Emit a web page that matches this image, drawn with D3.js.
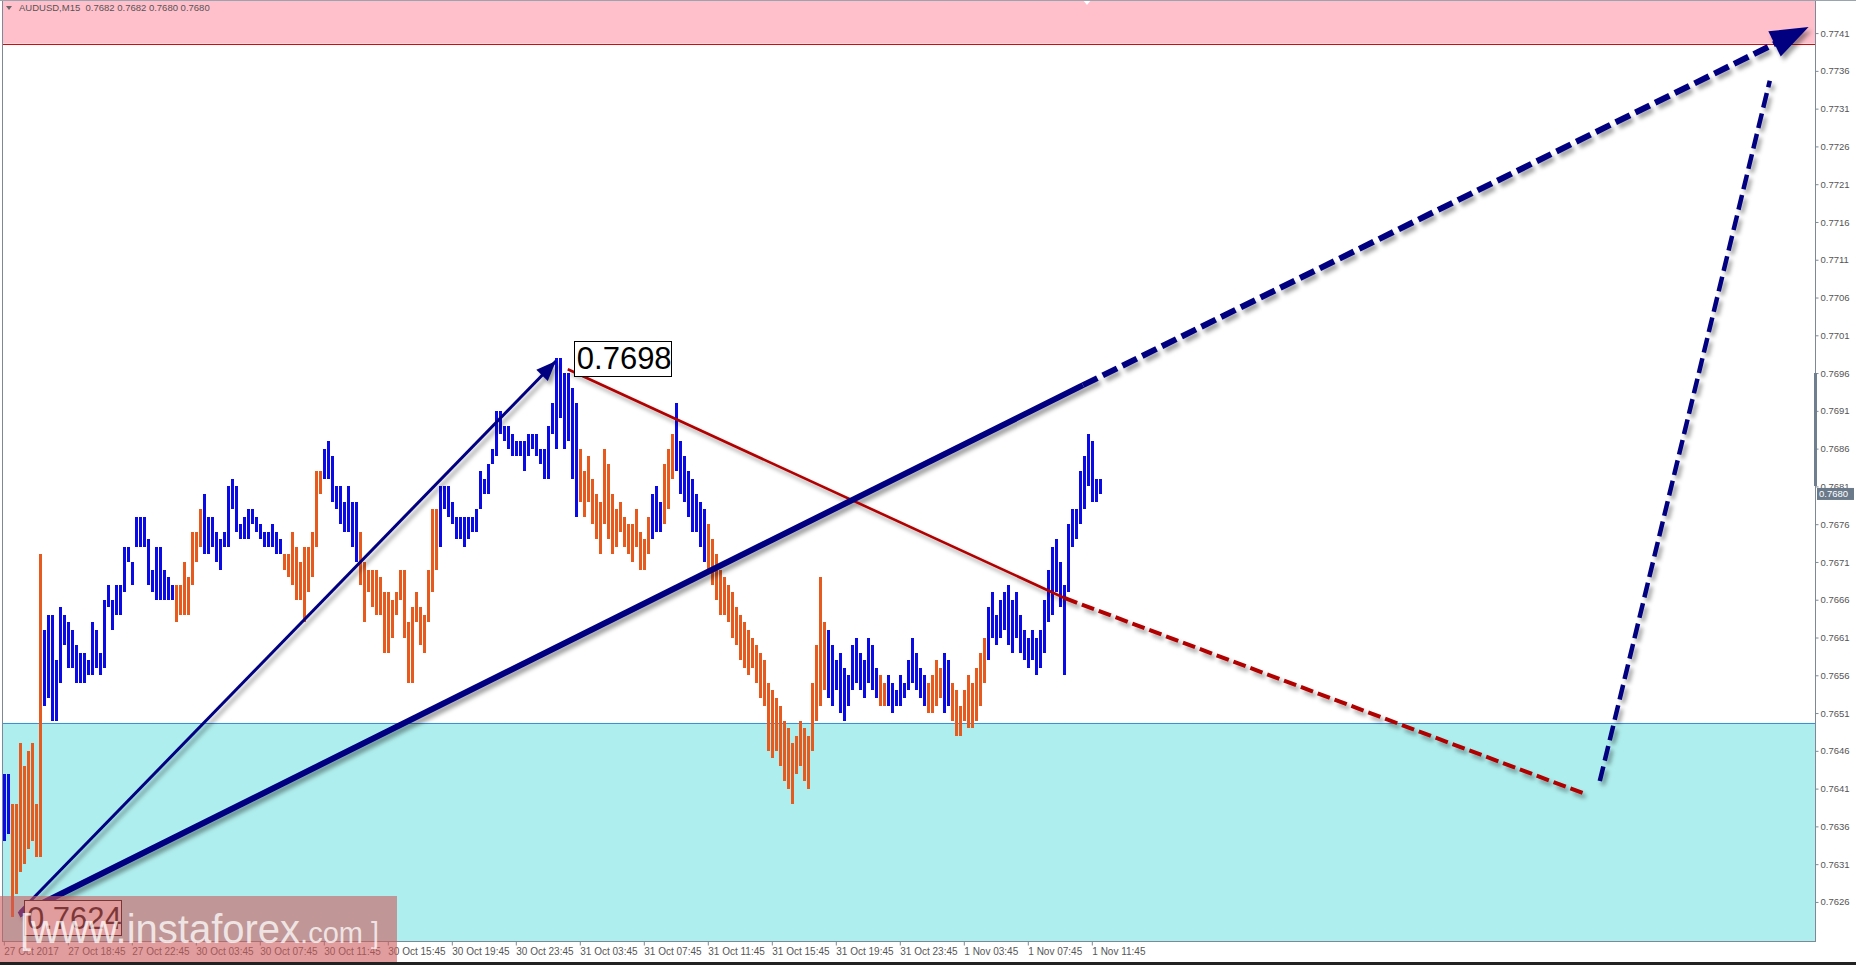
<!DOCTYPE html>
<html><head><meta charset="utf-8">
<script src="https://cdn.jsdelivr.net/npm/d3@7/dist/d3.min.js"></script>
<style>
html,body{margin:0;padding:0;background:#fff;overflow:hidden}
svg{display:block}
</style></head><body>
<svg id="chart" width="1856" height="965"></svg>
<script>
// ---------------- DATA ----------------
const symbolTitle = "AUDUSD,M15";
const lastQuote = ["0.7682", "0.7682", "0.7680", "0.7680"];
const currentPrice = 0.7680;

const barHigh = [
0.7643,0.7643,0.7639,0.7639,0.7647,0.7644,0.7646,0.7647,0.7639,0.7672,
0.7662,0.7664,0.7664,0.7658,0.7665,0.7664,0.7663,0.7662,0.7660,0.7659,
0.7659,0.7658,0.7663,0.7662,0.7659,0.7666,0.7668,0.7666,0.7668,0.7668,
0.7673,0.7673,0.7671,0.7677,0.7677,0.7677,0.7674,0.7670,0.7673,0.7673,
0.7670,0.7669,0.7668,0.7668,0.7668,0.7671,0.7669,0.7675,0.7675,0.7678,
0.7680,0.7677,0.7677,0.7675,0.7674,0.7675,0.7681,0.7682,0.7681,0.7676,
0.7677,0.7678,0.7678,0.7677,0.7676,0.7675,0.7675,0.7676,0.7675,0.7674,
0.7672,0.7672,0.7675,0.7673,0.7671,0.7673,0.7673,0.7675,0.7683,0.7683,
0.7686,0.7687,0.7685,0.7681,0.7681,0.7679,0.7681,0.7679,0.7679,0.7675,
0.7671,0.7670,0.7670,0.7670,0.7669,0.7667,0.7667,0.7666,0.7667,0.7670,
0.7670,0.7663,0.7665,0.7667,0.7665,0.7664,0.7670,0.7678,0.7678,0.7681,
0.7681,0.7681,0.7679,0.7677,0.7677,0.7677,0.7677,0.7677,0.7678,0.7683,
0.7682,0.7684,0.7686,0.7691,0.7691,0.7689,0.7689,0.7688,0.7687,0.7687,
0.7687,0.7688,0.7688,0.7688,0.7686,0.7686,0.7689,0.7692,0.7698,0.7698,
0.7696,0.7696,0.7694,0.7692,0.7686,0.7683,0.7685,0.7682,0.7680,0.7679,
0.7686,0.7684,0.7680,0.7678,0.7679,0.7677,0.7676,0.7676,0.7678,0.7675,
0.7674,0.7677,0.7680,0.7681,0.7679,0.7684,0.7686,0.7688,0.7692,0.7687,
0.7685,0.7683,0.7682,0.7680,0.7679,0.7678,0.7676,0.7674,0.7672,0.7670,
0.7669,0.7668,0.7667,0.7665,0.7664,0.7663,0.7662,0.7661,0.7660,0.7659,
0.7658,0.7655,0.7654,0.7653,0.7652,0.7650,0.7649,0.7647,0.7648,0.7650,
0.7649,0.7648,0.7655,0.7660,0.7669,0.7663,0.7662,0.7660,0.7658,0.7659,
0.7657,0.7656,0.7660,0.7661,0.7659,0.7658,0.7661,0.7660,0.7657,0.7656,
0.7655,0.7656,0.7655,0.7654,0.7656,0.7655,0.7658,0.7661,0.7659,0.7657,
0.7656,0.7655,0.7656,0.7658,0.7657,0.7659,0.7658,0.7655,0.7654,0.7652,
0.7654,0.7656,0.7655,0.7657,0.7659,0.7661,0.7665,0.7667,0.7664,0.7666,
0.7667,0.7668,0.7666,0.7667,0.7664,0.7662,0.7661,0.7662,0.7661,0.7662,
0.7666,0.7670,0.7673,0.7674,0.7671,0.7668,0.7676,0.7678,0.7678,0.7683,
0.7685,0.7688,0.7687,0.7682,0.7682
];
const barLow = [
0.7634,0.7635,0.7624,0.7627,0.7630,0.7631,0.7633,0.7634,0.7632,0.7632,
0.7652,0.7653,0.7650,0.7650,0.7655,0.7660,0.7657,0.7657,0.7655,0.7655,
0.7655,0.7656,0.7656,0.7657,0.7656,0.7657,0.7665,0.7662,0.7664,0.7664,
0.7667,0.7671,0.7668,0.7673,0.7673,0.7673,0.7668,0.7667,0.7666,0.7666,
0.7666,0.7666,0.7666,0.7663,0.7664,0.7664,0.7664,0.7668,0.7671,0.7673,
0.7672,0.7672,0.7673,0.7671,0.7670,0.7673,0.7673,0.7678,0.7675,0.7674,
0.7674,0.7674,0.7676,0.7675,0.7674,0.7673,0.7673,0.7673,0.7672,0.7672,
0.7670,0.7669,0.7668,0.7666,0.7666,0.7663,0.7667,0.7669,0.7673,0.7680,
0.7682,0.7682,0.7679,0.7678,0.7676,0.7675,0.7675,0.7673,0.7671,0.7668,
0.7663,0.7667,0.7665,0.7664,0.7664,0.7659,0.7659,0.7661,0.7664,0.7666,
0.7661,0.7655,0.7655,0.7663,0.7660,0.7659,0.7663,0.7667,0.7670,0.7673,
0.7678,0.7677,0.7676,0.7674,0.7674,0.7673,0.7674,0.7675,0.7675,0.7678,
0.7680,0.7680,0.7684,0.7685,0.7688,0.7687,0.7686,0.7685,0.7685,0.7685,
0.7683,0.7685,0.7686,0.7685,0.7684,0.7682,0.7682,0.7688,0.7686,0.7690,
0.7686,0.7687,0.7682,0.7677,0.7679,0.7677,0.7679,0.7676,0.7674,0.7672,
0.7676,0.7674,0.7672,0.7673,0.7675,0.7673,0.7672,0.7671,0.7673,0.7670,
0.7670,0.7672,0.7674,0.7675,0.7675,0.7676,0.7678,0.7682,0.7683,0.7680,
0.7679,0.7677,0.7675,0.7675,0.7673,0.7671,0.7670,0.7668,0.7666,0.7664,
0.7664,0.7663,0.7661,0.7660,0.7658,0.7657,0.7656,0.7657,0.7655,0.7653,
0.7652,0.7646,0.7645,0.7646,0.7644,0.7642,0.7641,0.7639,0.7643,0.7644,
0.7642,0.7641,0.7646,0.7650,0.7652,0.7654,0.7653,0.7652,0.7654,0.7651,
0.7650,0.7652,0.7654,0.7655,0.7654,0.7653,0.7655,0.7654,0.7653,0.7652,
0.7652,0.7652,0.7651,0.7652,0.7652,0.7653,0.7654,0.7655,0.7654,0.7653,
0.7652,0.7651,0.7651,0.7652,0.7653,0.7651,0.7652,0.7650,0.7648,0.7648,
0.7650,0.7649,0.7649,0.7650,0.7652,0.7655,0.7658,0.7661,0.7660,0.7661,
0.7662,0.7660,0.7659,0.7661,0.7659,0.7658,0.7657,0.7658,0.7656,0.7657,
0.7659,0.7663,0.7664,0.7667,0.7665,0.7656,0.7667,0.7673,0.7674,0.7676,
0.7678,0.7681,0.7679,0.7679,0.7680
];
// B = bullish bar (blue), O = bearish bar (orange)
const barDirection = (
"BBOOOOOOOO" + "BBBBBBBBBB" + "BBBBBBBBBB" + "BBBBBBBBBB" + "BBBOOOOOOO" +
"BBBBBBBBBB" + "BBBBBBBBBB" + "OOOOOOOOOO" + "BBBBBBBBBO" + "OOOOOOOOOO" +
"OOOOOOOOOB" + "BBBBBBBBBB" + "BBBBBBBBBB" + "BBBBBBBBBB" + "BBBBOOOOOO" +
"OOOOOOOOOO" + "OOBBBOOOBB" + "BBBBBBOOOO" + "OOOOOOOOOO" + "OOOOOOOOOO" +
"OOOOOOBBBB" + "BBBBBBBBBO" + "OBBBBBBBBB" + "BOOOOBBOOO" + "OOOOOOBBBB" +
"BBBBBBBBBB" + "BBBBBBBBBB" + "BBBBB").split("");

const timeTickIndex = [0,16,32,48,64,80,96,112,128,144,160,176,192,208,224,240,256,272];
const timeTickLabels = ["27 Oct 2017","27 Oct 18:45","27 Oct 22:45","30 Oct 03:45","30 Oct 07:45",
  "30 Oct 11:45","30 Oct 15:45","30 Oct 19:45","30 Oct 23:45","31 Oct 03:45","31 Oct 07:45",
  "31 Oct 11:45","31 Oct 15:45","31 Oct 19:45","31 Oct 23:45","1 Nov 03:45","1 Nov 07:45","1 Nov 11:45"];
const priceTickLabels = ["0.7741","0.7736","0.7731","0.7726","0.7721","0.7716","0.7711","0.7706",
  "0.7701","0.7696","0.7691","0.7686","0.7681","0.7676","0.7671","0.7666","0.7661","0.7656",
  "0.7651","0.7646","0.7641","0.7636","0.7631","0.7626"];

// zones (price)
const resistanceZoneLow = 0.77396;
const supportZoneHigh = 0.76497;

// wave markup in (bar index, price)
const impulseArrow = [[4.05, 0.76247], [138.05, 0.76976]];
const trendSolid = [[3.8, 0.76243], [269.8, 0.76944]];
const trendForecast = [[269.8, 0.76944], [451.2, 0.77418]];
const correctionSolid = [[141.0, 0.76965], [265.3, 0.76662]];
const correctionForecast = [[265.3, 0.76662], [394.8, 0.76404]];
const finalForecast = [[399.0, 0.76420], [441.5, 0.77347]];
const peakLabel = {text: "0.7698", idx: 142.5, price: 0.7698};
const troughLabel = {text: "0.7624", idx: 5.05, price: 0.7624};

// ---------------- DRAW ----------------
const W = 1856, H = 965;
const plotL = 3, plotR = 1815, plotT = 0, plotB = 941;
const svg = d3.select("#chart");

const x = d3.scaleLinear().domain([0, 100]).range([3.8, 403.8]);
const y = d3.scaleLinear().domain([0.762083, 0.774538]).range([plotB, plotT]);

const defs = svg.append("defs");
const f = defs.append("filter").attr("id", "sh").attr("filterUnits", "userSpaceOnUse")
  .attr("x", 0).attr("y", 0).attr("width", W).attr("height", H);
f.append("feDropShadow").attr("dx", 3).attr("dy", 4).attr("stdDeviation", 2)
  .attr("flood-color", "#000").attr("flood-opacity", 0.38);
defs.append("clipPath").attr("id", "plotclip").append("rect")
  .attr("x", plotL).attr("y", plotT).attr("width", plotR - plotL).attr("height", plotB - plotT);

svg.append("rect").attr("width", W).attr("height", H).attr("fill", "#fff");

const plot = svg.append("g").attr("clip-path", "url(#plotclip)");

// zones
plot.append("rect").attr("x", plotL).attr("y", plotT).attr("width", plotR - plotL)
  .attr("height", y(resistanceZoneLow) - plotT).attr("fill", "#FFC0CB");
plot.append("line").attr("x1", plotL).attr("x2", plotR)
  .attr("y1", Math.round(y(resistanceZoneLow)) + 0.5).attr("y2", Math.round(y(resistanceZoneLow)) + 0.5)
  .attr("stroke", "#C81010").attr("stroke-width", 1);
plot.append("rect").attr("x", plotL).attr("y", y(supportZoneHigh)).attr("width", plotR - plotL)
  .attr("height", plotB - y(supportZoneHigh)).attr("fill", "#AFEEEE");
plot.append("line").attr("x1", plotL).attr("x2", plotR)
  .attr("y1", Math.round(y(supportZoneHigh)) + 0.5).attr("y2", Math.round(y(supportZoneHigh)) + 0.5)
  .attr("stroke", "#3C8FD8").attr("stroke-width", 1);

// bars
const bars = barHigh.map((h, i) => ({i, h, l: barLow[i], up: barDirection[i] === "B"}));
plot.append("g").attr("shape-rendering", "crispEdges").selectAll("rect").data(bars).join("rect")
  .attr("x", d => Math.round(x(d.i)) - 1)
  .attr("width", 3)
  .attr("y", d => Math.round(y(d.h)))
  .attr("height", d => Math.max(2, Math.round(y(d.l)) - Math.round(y(d.h))))
  .attr("fill", d => d.up ? "#0A0AE6" : "#E65A1E");

// lines
const lineGen = d3.line().x(d => x(d[0])).y(d => y(d[1]));
const markup = plot.append("g").attr("filter", "url(#sh)");
function drawLine(pts, color, width, dash) {
  markup.append("path").attr("d", lineGen(pts)).attr("fill", "none")
    .attr("stroke", color).attr("stroke-width", width)
    .attr("stroke-dasharray", dash || null).attr("stroke-linecap", "butt");
}
function arrowHead(pts, color, len, half) {
  const [a, b] = pts;
  const x1 = x(a[0]), y1 = y(a[1]), x2 = x(b[0]), y2 = y(b[1]);
  const ang = Math.atan2(y2 - y1, x2 - x1);
  const bx = x2 - len * Math.cos(ang), by = y2 - len * Math.sin(ang);
  const px = -Math.sin(ang) * half, py = Math.cos(ang) * half;
  markup.append("path").attr("d", `M${x2},${y2}L${bx + px},${by + py}L${bx - px},${by - py}Z`)
    .attr("fill", color);
}
drawLine(correctionSolid, "#B00000", 2.6);
drawLine(correctionForecast, "#B00000", 4, "13,5");
drawLine(impulseArrow, "#000080", 3);
arrowHead(impulseArrow, "#000080", 20, 8);
drawLine(trendSolid, "#000080", 6);
{
  const [a, b] = trendForecast;
  const t = 0.975;
  const end = [a[0] + (b[0] - a[0]) * t, a[1] + (b[1] - a[1]) * t];
  drawLine([a, end], "#000080", 6, "16,6");
  arrowHead(trendForecast, "#000080", 38, 14);
}
drawLine(finalForecast, "#000080", 4.5, "15,6");

// label boxes
function priceBox(lab) {
  const bx = x(lab.idx), by = y(lab.price);
  const g = plot.append("g");
  g.append("rect").attr("x", Math.round(bx) + 0.5).attr("y", Math.round(by - 17) + 0.5)
    .attr("width", 97).attr("height", 35).attr("fill", "#fff").attr("stroke", "#000").attr("stroke-width", 1);
  g.append("text").attr("x", bx + 3).attr("y", by + 11.5).text(lab.text)
    .attr("font-family", "Liberation Sans, Arial, sans-serif").attr("font-size", 31).attr("fill", "#000");
}
priceBox(peakLabel);
priceBox(troughLabel);

// shift marker at top
plot.append("path").attr("d", "M1083,0L1091,0L1087,5Z").attr("fill", "#fff");

// frame
svg.append("line").attr("x1", plotL - 0.5).attr("x2", plotL - 0.5).attr("y1", 0).attr("y2", plotB)
  .attr("stroke", "#7d8a96");
svg.append("line").attr("x1", plotR + 0.5).attr("x2", plotR + 0.5).attr("y1", 0).attr("y2", plotB + 1)
  .attr("stroke", "#7d8a96");
svg.append("line").attr("x1", plotL - 1).attr("x2", plotR + 1).attr("y1", plotB + 0.5).attr("y2", plotB + 0.5)
  .attr("stroke", "#7d8a96");
svg.append("line").attr("x1", 0).attr("x2", W).attr("y1", 0.5).attr("y2", 0.5).attr("stroke", "#9aa4ae");

// right axis
const yAxis = d3.axisRight(y).tickValues(priceTickLabels.map(Number))
  .tickFormat((d, i) => priceTickLabels[i]).tickSize(3).tickPadding(2);
const ya = svg.append("g").attr("transform", `translate(${plotR + 0.5},0)`).call(yAxis);
ya.select(".domain").remove();
ya.selectAll("line").attr("stroke", "#7d8a96");
ya.selectAll("text").attr("fill", "#555").attr("font-size", 9.5)
  .attr("font-family", "Liberation Sans, Arial, sans-serif");
// scale highlight segment
svg.append("rect").attr("x", plotR - 1).attr("width", 3).attr("y", 373).attr("height", 113).attr("fill", "#6f7f8f");
// current price tag
const cp = y(currentPrice);
svg.append("rect").attr("x", plotR + 2).attr("y", cp - 6).attr("width", 37).attr("height", 12).attr("fill", "#6b7a8a");
svg.append("text").attr("x", plotR + 4).attr("y", cp + 3.5).text(currentPrice.toFixed(4))
  .attr("fill", "#fff").attr("font-size", 9.5).attr("font-family", "Liberation Sans, Arial, sans-serif");

// bottom axis
const xAxis = d3.axisBottom(x).tickValues(timeTickIndex)
  .tickFormat((d, i) => timeTickLabels[i]).tickSize(4).tickPadding(2);
const xa = svg.append("g").attr("transform", `translate(0,${plotB + 0.5})`).call(xAxis);
xa.select(".domain").remove();
xa.selectAll("line").attr("stroke", "#7d8a96");
xa.selectAll("text").attr("fill", "#555").attr("font-size", 10).attr("text-anchor", "start")
  .attr("dx", 0).attr("font-family", "Liberation Sans, Arial, sans-serif");

// title
svg.append("path").attr("d", "M6,6L12,6L9,10Z").attr("fill", "#666");
svg.append("text").attr("x", 19).attr("y", 11).attr("fill", "#555").attr("font-size", 9.5)
  .attr("font-family", "Liberation Sans, Arial, sans-serif").attr("xml:space", "preserve")
  .text(symbolTitle + "  " + lastQuote.join(" "));

// watermark
const wm = svg.append("g");
wm.append("rect").attr("x", 0).attr("y", 896).attr("width", 397).attr("height", 66)
  .attr("fill", "rgb(205,92,92)").attr("fill-opacity", 0.6);
const wt = wm.append("text").attr("x", 20).attr("y", 943).attr("fill", "#fff").attr("fill-opacity", 0.75)
  .attr("font-family", "Liberation Sans, Arial, sans-serif");
wt.append("tspan").attr("font-size", 40).text("[www.instaforex");
wt.append("tspan").attr("font-size", 29).text(".com ]");
svg.append("rect").attr("x", 0).attr("y", 962).attr("width", W).attr("height", 3).attr("fill", "#222");
</script>
</body></html>
